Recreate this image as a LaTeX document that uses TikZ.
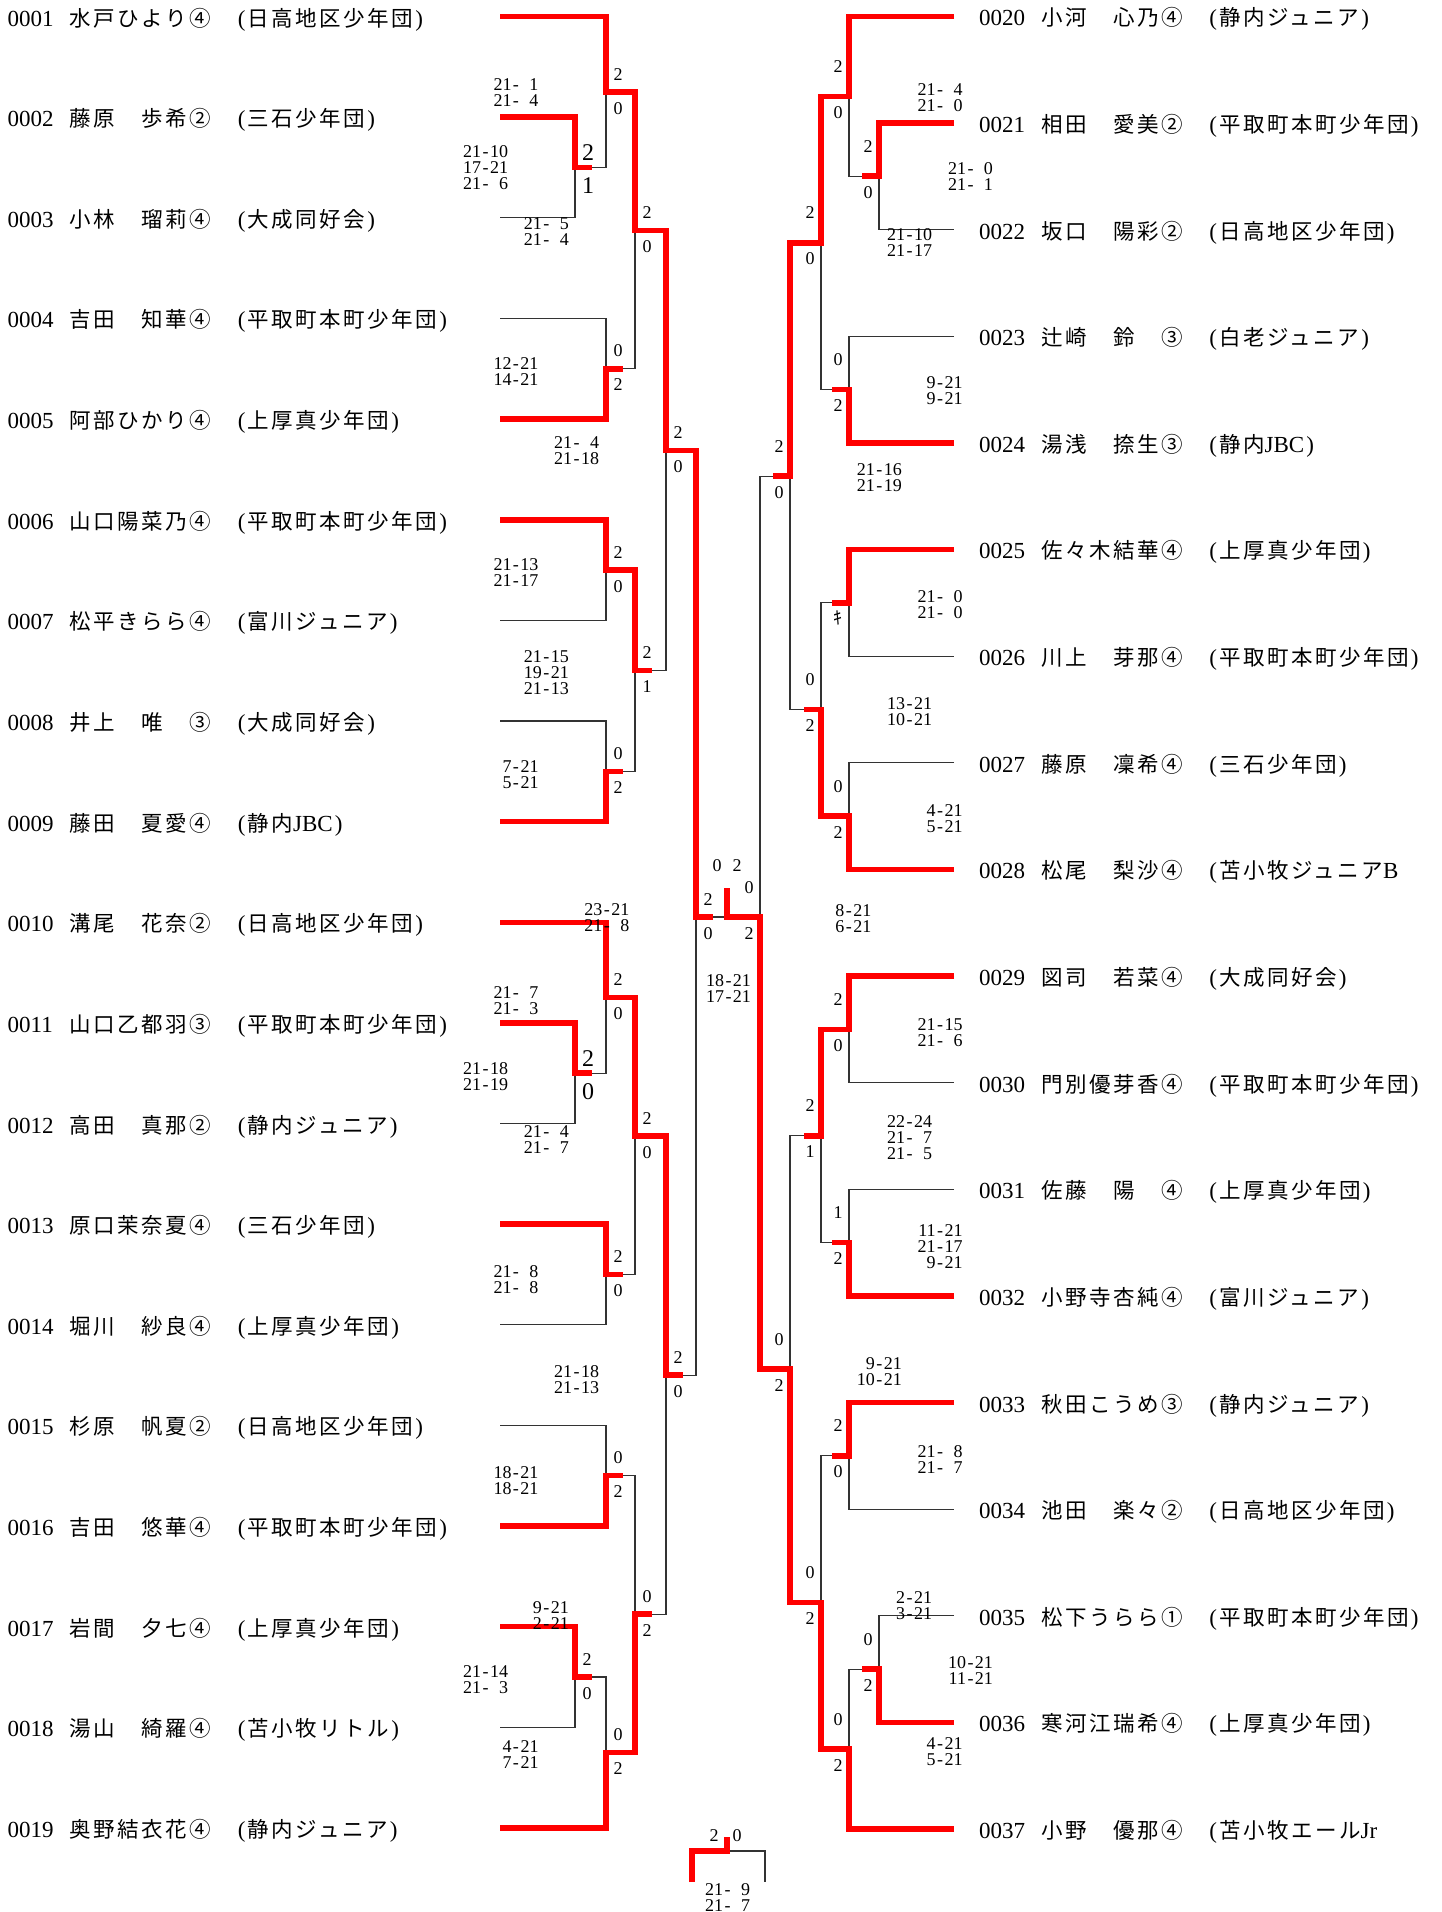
\documentclass[tikz,border=0pt]{standalone}
\usepackage{fontspec}
\setmainfont{Liberation Serif}
\newfontfamily\jp[LetterSpace=11.6]{Noto Sans CJK JP}
\newcommand\club[1]{\makebox[12pt]{(}{\jp\fontsize{21.5}{23}\selectfont #1}\makebox[12pt]{)}}
\newcommand\clubo[1]{\makebox[12pt]{(}{\jp\fontsize{21.5}{23}\selectfont #1}}
\newcommand\lat[1]{{\rmfamily\fontsize{23}{23}\selectfont #1}}
\newcommand\gsc[2]{\makebox[1em][r]{#1}\makebox[0.5em]{-}\makebox[1em][r]{#2}}
\tikzset{
 ln/.style={draw=black!80, line width=1.1pt},
 win/.style={draw=red, line width=5.5pt, line join=miter},
 score/.style={anchor=base west, inner sep=0pt, font=\fontsize{18}{18}\selectfont},
 lab/.style={anchor=base, inner sep=0pt, font=\fontsize{18}{18}\selectfont},
 labbig/.style={anchor=base, inner sep=0pt, font=\fontsize{24}{24}\selectfont},
 pnum/.style={anchor=base west, inner sep=0pt, font=\fontsize{23}{23}\selectfont},
 pname/.style={anchor=base west, inner sep=0pt, font=\jp\fontsize{21.5}{23}\selectfont},
 pclub/.style={anchor=base west, inner sep=0pt, font=\fontsize{23}{23}\selectfont},
}
\newcommand\pl[6]{%
 \node[pnum] (#1n) at (#2,{#3+9.5}) {#4};
 \node[pname] (#1m) at ({#2+62},{#3+9.5}) {#5};
 \node[pclub] (#1c) at ({#2+228},{#3+9.5}) {#6};}
\newcommand\scII[7]{%
 \node[score] (#1a) at (#2,{#3+6}) {\gsc{#4}{#5}};
 \node[score] (#1b) at (#2,{#3+22}) {\gsc{#6}{#7}};}
\newcommand\scIII[9]{%
 \node[score] (#1a) at (#2,{#3+6}) {\gsc{#4}{#5}};
 \node[score] (#1b) at (#2,{#3+22}) {\gsc{#6}{#7}};
 \node[score] (#1c) at (#2,{#3+38}) {\gsc{#8}{#9}};}
\newcommand\mlL[5]{%
 \node[lab] (#1t) at ({#2+12},{#3-18+6}) {#4};
 \node[lab] (#1b) at ({#2+12},{#3+16+6}) {#5};}
\newcommand\mlR[5]{%
 \node[lab] (#1t) at ({#2-11},{#3-30+6}) {#4};
 \node[lab] (#1b) at ({#2-11},{#3+16+6}) {#5};}
\newcommand\mlB[5]{%
 \node[labbig] (#1t) at ({#2+13},{#3-15+8}) {#4};
 \node[labbig] (#1b) at ({#2+13},{#3+18+8}) {#5};}
\begin{document}
\begin{tikzpicture}[x=1pt,y=-1pt]
\useasboundingbox (0,0) rectangle (1442,1912);
% player line ends
\coordinate (L1) at (500,16.6);
\coordinate (L2) at (500,117.23);
\coordinate (L3) at (500,217.86);
\coordinate (L4) at (500,318.49);
\coordinate (L5) at (500,419.12);
\coordinate (L6) at (500,519.75);
\coordinate (L7) at (500,620.38);
\coordinate (L8) at (500,721.01);
\coordinate (L9) at (500,821.64);
\coordinate (L10) at (500,922.27);
\coordinate (L11) at (500,1022.9);
\coordinate (L12) at (500,1123.53);
\coordinate (L13) at (500,1224.16);
\coordinate (L14) at (500,1324.79);
\coordinate (L15) at (500,1425.42);
\coordinate (L16) at (500,1526.05);
\coordinate (L17) at (500,1626.68);
\coordinate (L18) at (500,1727.31);
\coordinate (L19) at (500,1827.94);
\coordinate (R20) at (954,16.3);
\coordinate (R21) at (954,122.93);
\coordinate (R22) at (954,229.56);
\coordinate (R23) at (954,336.19);
\coordinate (R24) at (954,442.82);
\coordinate (R25) at (954,549.45);
\coordinate (R26) at (954,656.08);
\coordinate (R27) at (954,762.71);
\coordinate (R28) at (954,869.34);
\coordinate (R29) at (954,975.97);
\coordinate (R30) at (954,1082.6);
\coordinate (R31) at (954,1189.23);
\coordinate (R32) at (954,1295.86);
\coordinate (R33) at (954,1402.49);
\coordinate (R34) at (954,1509.12);
\coordinate (R35) at (954,1615.75);
\coordinate (R36) at (954,1722.38);
\coordinate (R37) at (954,1829.01);
% junctions left
\coordinate (jA) at (575,167.6);
\coordinate (jB) at (606,92.1);
\coordinate (jC) at (606,368.8);
\coordinate (jD) at (635,230.5);
\coordinate (jE) at (606,570.1);
\coordinate (jF) at (606,771.3);
\coordinate (jG) at (635,670.7);
\coordinate (jH) at (666,450.6);
\coordinate (jJ) at (575,1073.2);
\coordinate (jI) at (606,997.7);
\coordinate (jK) at (606,1274.5);
\coordinate (jL) at (635,1136.1);
\coordinate (jM) at (606,1475.7);
\coordinate (jN) at (575,1677.0);
\coordinate (jO) at (606,1752.5);
\coordinate (jP) at (635,1614.1);
\coordinate (jQ) at (666,1375.1);
\coordinate (jSL) at (696,917);
% junctions right
\coordinate (ja) at (879,176.2);
\coordinate (jb) at (849,96.3);
\coordinate (jc) at (849,389.5);
\coordinate (jd) at (821,242.9);
\coordinate (je) at (849,602.8);
\coordinate (jf) at (849,816.0);
\coordinate (jg) at (821,709.4);
\coordinate (jh) at (790,476.2);
\coordinate (ji) at (849,1029.3);
\coordinate (jj) at (849,1242.5);
\coordinate (jk) at (821,1135.9);
\coordinate (jl) at (849,1455.8);
\coordinate (jm) at (879,1669.1);
\coordinate (jn) at (849,1749.1);
\coordinate (jo) at (821,1602.4);
\coordinate (jp) at (790,1369.2);
\coordinate (jSR) at (760,917);
\coordinate (jFin) at (727,917);
\coordinate (champ) at (727,888);
% bottom small bracket
\coordinate (b1) at (692,1882);
\coordinate (b2) at (727,1851);
\coordinate (b3) at (727,1837);
\coordinate (b4) at (765,1882);

% thin lines left
\draw[ln] (L2) -| (jA) |- (L3);
\draw[ln] (L1) -| (jB) |- (jA);
\draw[ln] (L4) -| (jC) |- (L5);
\draw[ln] (jB) -| (jD) |- (jC);
\draw[ln] (L6) -| (jE) |- (L7);
\draw[ln] (L8) -| (jF) |- (L9);
\draw[ln] (jE) -| (jG) |- (jF);
\draw[ln] (jD) -| (jH) |- (jG);
\draw[ln] (L11) -| (jJ) |- (L12);
\draw[ln] (L10) -| (jI) |- (jJ);
\draw[ln] (L13) -| (jK) |- (L14);
\draw[ln] (jI) -| (jL) |- (jK);
\draw[ln] (L15) -| (jM) |- (L16);
\draw[ln] (L17) -| (jN) |- (L18);
\draw[ln] (jN) -| (jO) |- (L19);
\draw[ln] (jM) -| (jP) |- (jO);
\draw[ln] (jL) -| (jQ) |- (jP);
\draw[ln] (jH) -| (jSL) |- (jQ);
\draw[ln] (jSL) -- (jSR);
\draw[ln] (jFin) -- (champ);
% thin lines right
\draw[ln] (R21) -| (ja) |- (R22);
\draw[ln] (R20) -| (jb) |- (ja);
\draw[ln] (R23) -| (jc) |- (R24);
\draw[ln] (jb) -| (jd) |- (jc);
\draw[ln] (R25) -| (je) |- (R26);
\draw[ln] (R27) -| (jf) |- (R28);
\draw[ln] (je) -| (jg) |- (jf);
\draw[ln] (jd) -| (jh) |- (jg);
\draw[ln] (R29) -| (ji) |- (R30);
\draw[ln] (R31) -| (jj) |- (R32);
\draw[ln] (ji) -| (jk) |- (jj);
\draw[ln] (R33) -| (jl) |- (R34);
\draw[ln] (R35) -| (jm) |- (R36);
\draw[ln] (jm) -| (jn) |- (R37);
\draw[ln] (jl) -| (jo) |- (jn);
\draw[ln] (jk) -| (jp) |- (jo);
\draw[ln] (jh) -| (jSR) |- (jp);
\draw[ln] (b2) -| (b4);

% winners left
\draw[win] (L1) -| (jB) -| (jD) -| (jH) -| (jSL) -- ++(17,0);
\draw[win] (L2) -| (jA) -- ++(17,0);
\draw[win] (L5) -| (jC) -- ++(17,0);
\draw[win] (L6) -| (jE) -| (jG) -- ++(17,0);
\draw[win] (L9) -| (jF) -- ++(17,0);
\draw[win] (L10) -| (jI) -| (jL) -| (jQ) -- ++(17,0);
\draw[win] (L11) -| (jJ) -- ++(17,0);
\draw[win] (L13) -| (jK) -- ++(17,0);
\draw[win] (L16) -| (jM) -- ++(17,0);
\draw[win] (L17) -| (jN) -- ++(17,0);
\draw[win] (L19) -| (jO) -| (jP) -- ++(17,0);
% winners right
\draw[win] (R20) -| (jb) -| (jd) -| (jh) -- ++(-17,0);
\draw[win] (R21) -| (ja) -- ++(-17,0);
\draw[win] (R24) -| (jc) -- ++(-17,0);
\draw[win] (R25) -| (je) -- ++(-17,0);
\draw[win] (R28) -| (jf) -| (jg) -- ++(-17,0);
\draw[win] (R29) -| (ji) -| (jk) -- ++(-17,0);
\draw[win] (R32) -| (jj) -- ++(-17,0);
\draw[win] (R33) -| (jl) -- ++(-17,0);
\draw[win] (R36) -| (jm) -- ++(-17,0);
\draw[win] (R37) -| (jn) -| (jo) -| (jp) -| (jSR) -| (champ);
\draw[win] (b1) |- (b2) -- (b3);

% players left
\pl{p1}{7.5}{16.6}{0001}{水戸ひより④}{\club{日高地区少年団}}
\pl{p2}{7.5}{117.23}{0002}{藤原　歩希②}{\club{三石少年団}}
\pl{p3}{7.5}{217.86}{0003}{小林　瑠莉④}{\club{大成同好会}}
\pl{p4}{7.5}{318.49}{0004}{吉田　知華④}{\club{平取町本町少年団}}
\pl{p5}{7.5}{419.12}{0005}{阿部ひかり④}{\club{上厚真少年団}}
\pl{p6}{7.5}{519.75}{0006}{山口陽菜乃④}{\club{平取町本町少年団}}
\pl{p7}{7.5}{620.38}{0007}{松平きらら④}{\club{富川ジュニア}}
\pl{p8}{7.5}{721.01}{0008}{井上　唯　③}{\club{大成同好会}}
\pl{p9}{7.5}{821.64}{0009}{藤田　夏愛④}{\club{静内\lat{JBC}}}
\pl{p10}{7.5}{922.27}{0010}{溝尾　花奈②}{\club{日高地区少年団}}
\pl{p11}{7.5}{1022.9}{0011}{山口乙都羽③}{\club{平取町本町少年団}}
\pl{p12}{7.5}{1123.53}{0012}{高田　真那②}{\club{静内ジュニア}}
\pl{p13}{7.5}{1224.16}{0013}{原口茉奈夏④}{\club{三石少年団}}
\pl{p14}{7.5}{1324.79}{0014}{堀川　紗良④}{\club{上厚真少年団}}
\pl{p15}{7.5}{1425.42}{0015}{杉原　帆夏②}{\club{日高地区少年団}}
\pl{p16}{7.5}{1526.05}{0016}{吉田　悠華④}{\club{平取町本町少年団}}
\pl{p17}{7.5}{1626.68}{0017}{岩間　夕七④}{\club{上厚真少年団}}
\pl{p18}{7.5}{1727.31}{0018}{湯山　綺羅④}{\club{苫小牧リトル}}
\pl{p19}{7.5}{1827.94}{0019}{奥野結衣花④}{\club{静内ジュニア}}
% players right
\pl{p20}{979}{16.3}{0020}{小河　心乃④}{\club{静内ジュニア}}
\pl{p21}{979}{122.93}{0021}{相田　愛美②}{\club{平取町本町少年団}}
\pl{p22}{979}{229.56}{0022}{坂口　陽彩②}{\club{日高地区少年団}}
\pl{p23}{979}{336.19}{0023}{辻崎　鈴　③}{\club{白老ジュニア}}
\pl{p24}{979}{442.82}{0024}{湯浅　捺生③}{\club{静内\lat{JBC}}}
\pl{p25}{979}{549.45}{0025}{佐々木結華④}{\club{上厚真少年団}}
\pl{p26}{979}{656.08}{0026}{川上　芽那④}{\club{平取町本町少年団}}
\pl{p27}{979}{762.71}{0027}{藤原　凜希④}{\club{三石少年団}}
\pl{p28}{979}{869.34}{0028}{松尾　梨沙④}{\clubo{苫小牧ジュニア\lat{B}}}
\pl{p29}{979}{975.97}{0029}{図司　若菜④}{\club{大成同好会}}
\pl{p30}{979}{1082.6}{0030}{門別優芽香④}{\club{平取町本町少年団}}
\pl{p31}{979}{1189.23}{0031}{佐藤　陽　④}{\club{上厚真少年団}}
\pl{p32}{979}{1295.86}{0032}{小野寺杏純④}{\club{富川ジュニア}}
\pl{p33}{979}{1402.49}{0033}{秋田こうめ③}{\club{静内ジュニア}}
\pl{p34}{979}{1509.12}{0034}{池田　楽々②}{\club{日高地区少年団}}
\pl{p35}{979}{1615.75}{0035}{松下うらら①}{\club{平取町本町少年団}}
\pl{p36}{979}{1722.38}{0036}{寒河江瑞希④}{\club{上厚真少年団}}
\pl{p37}{979}{1829.01}{0037}{小野　優那④}{\clubo{苫小牧エール\lat{Jr}}}

% game counts left
\mlB{mA}{575}{167.6}{2}{1}
\mlL{mB}{606}{92.1}{2}{0}
\mlL{mC}{606}{368.8}{0}{2}
\mlL{mD}{635}{230.5}{2}{0}
\mlL{mE}{606}{570.1}{2}{0}
\mlL{mF}{606}{771.3}{0}{2}
\mlL{mG}{635}{670.7}{2}{1}
\mlL{mH}{666}{450.6}{2}{0}
\mlB{mJ}{575}{1073.2}{2}{0}
\mlL{mI}{606}{997.7}{2}{0}
\mlL{mK}{606}{1274.5}{2}{0}
\mlL{mL}{635}{1136.1}{2}{0}
\mlL{mM}{606}{1475.7}{0}{2}
\mlL{mN}{575}{1677.0}{2}{0}
\mlL{mO}{606}{1752.5}{0}{2}
\mlL{mP}{635}{1614.1}{0}{2}
\mlL{mQ}{666}{1375.1}{2}{0}
\mlL{mSL}{696}{917}{2}{0}
% game counts right
\mlR{ma}{879}{176.2}{2}{0}
\mlR{mb}{849}{96.3}{2}{0}
\mlR{mc}{849}{389.5}{0}{2}
\mlR{md}{821}{242.9}{2}{0}
\mlR{me}{849}{602.8}{}{{\jp ｷ}}
\mlR{mf}{849}{816.0}{0}{2}
\mlR{mg}{821}{709.4}{0}{2}
\mlR{mh}{790}{476.2}{2}{0}
\mlR{mi}{849}{1029.3}{2}{0}
\mlR{mj}{849}{1242.5}{1}{2}
\mlR{mk}{821}{1135.9}{2}{1}
\mlR{ml}{849}{1455.8}{2}{0}
\mlR{mm}{879}{1669.1}{0}{2}
\mlR{mn}{849}{1749.1}{0}{2}
\mlR{mo}{821}{1602.4}{0}{2}
\mlR{mp}{790}{1369.2}{0}{2}
\mlR{mSR}{760}{917}{0}{2}
% final and bottom counts
\node[lab] (fin0) at (717,871) {0};
\node[lab] (fin2) at (737,871) {2};
\node[lab] (bot2) at (714,1841) {2};
\node[lab] (bot0) at (737,1841) {0};

% scores
\scII{s1}{493.3}{84}{21}{1}{21}{4}
\scIII{s2}{463}{151.5}{21}{10}{17}{21}{21}{6}
\scII{s3}{523.6}{223.6}{21}{5}{21}{4}
\scII{s4}{493.3}{363}{12}{21}{14}{21}
\scII{s5}{553.9}{442.4}{21}{4}{21}{18}
\scII{s6}{493.3}{564.6}{21}{13}{21}{17}
\scIII{s7}{523.6}{656}{21}{15}{19}{21}{21}{13}
\scII{s8}{493.3}{766}{7}{21}{5}{21}
\scII{s9}{584.2}{909}{23}{21}{21}{8}
\scII{s10}{493.3}{992.3}{21}{7}{21}{3}
\scII{s11}{463}{1068}{21}{18}{21}{19}
\scII{s12}{523.6}{1131.6}{21}{4}{21}{7}
\scII{s13}{493.3}{1271}{21}{8}{21}{8}
\scII{s14}{553.9}{1371}{21}{18}{21}{13}
\scII{s15}{493.3}{1472.5}{18}{21}{18}{21}
\scII{s16}{523.6}{1607}{9}{21}{2}{21}
\scII{s17}{463}{1671}{21}{14}{21}{3}
\scII{s18}{493.3}{1746}{4}{21}{7}{21}
\scII{s19}{705.8}{980}{18}{21}{17}{21}
\scII{s20}{826.2}{910}{8}{21}{6}{21}
\scII{s21}{917.4}{89.2}{21}{4}{21}{0}
\scII{s22}{947.8}{168.6}{21}{0}{21}{1}
\scII{s23}{887}{234.6}{21}{10}{21}{17}
\scII{s24}{917.4}{382.5}{9}{21}{9}{21}
\scII{s25}{856.6}{469.2}{21}{16}{21}{19}
\scII{s26}{917.4}{596.3}{21}{0}{21}{0}
\scII{s27}{887}{703.9}{13}{21}{10}{21}
\scII{s28}{917.4}{810.2}{4}{21}{5}{21}
\scII{s29}{917.4}{1024}{21}{15}{21}{6}
\scIII{s30}{887}{1121.8}{22}{24}{21}{7}{21}{5}
\scIII{s31}{917.4}{1230.6}{11}{21}{21}{17}{9}{21}
\scII{s32}{856.6}{1363.8}{9}{21}{10}{21}
\scII{s33}{917.4}{1451.7}{21}{8}{21}{7}
\scII{s34}{887}{1597}{2}{21}{3}{21}
\scII{s35}{947.8}{1662.5}{10}{21}{11}{21}
\scII{s36}{917.4}{1743.5}{4}{21}{5}{21}
\scII{s37}{705}{1889}{21}{9}{21}{7}
\end{tikzpicture}
\end{document}
